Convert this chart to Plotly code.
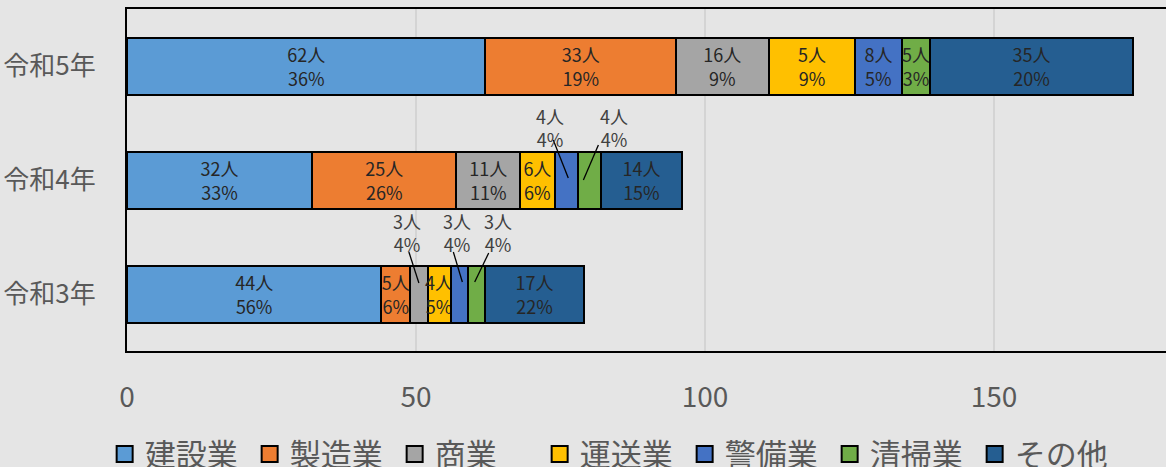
import plotly.graph_objects as go

# ---------------- data ----------------
years = ["令和3年", "令和4年", "令和5年"]
industries = ["建設業", "製造業", "商業", "運送業", "警備業", "清掃業", "その他"]

construction = [44, 32, 62]
manufacturing = [5, 25, 33]
commerce = [3, 11, 16]
transport = [4, 6, 15]
security = [3, 4, 8]
cleaning = [3, 4, 5]
other = [17, 14, 35]

construction_pct = [56, 33, 36]
manufacturing_pct = [6, 26, 19]
commerce_pct = [4, 11, 9]
transport_pct = [5, 6, 9]
security_pct = [4, 4, 5]
cleaning_pct = [4, 4, 3]
other_pct = [22, 15, 20]

# counts as printed in the data labels (the 令和5年 運送業 label reads "5人")
transport_label_counts = [4, 6, 5]

x_ticks = [0, 50, 100, 150]

# ---------------- style ----------------
colors = ["#5B9BD5", "#ED7D31", "#A5A5A5", "#FFC000", "#4472C4", "#70AD47", "#255E91"]
BG = "#e5e5e5"
FONT = "Noto Sans CJK JP"
GRAY = "#595959"

values = [construction, manufacturing, commerce, transport, security, cleaning, other]
pcts = [construction_pct, manufacturing_pct, commerce_pct, transport_pct,
        security_pct, cleaning_pct, other_pct]
label_counts = [construction, manufacturing, commerce, transport_label_counts,
                security, cleaning, other]

# labels placed outside with leader lines (pixel offsets from the segment centre):
# (industry index, year index) -> (text dx, text dy, line start dx, dy, line end dx, dy)
outside = {
    (4, 1): (-16, 53, -13, 40, 2, 2),
    (5, 1): (25, 53, 9, 35, -6, 0),
    (2, 0): (-12, 62, -10, 42, 0, 11),
    (4, 0): (-2, 62, -6, 42, 3, 12),
    (5, 0): (21, 62, 12, 41, -2, 12),
}

fig = go.Figure()
annotations = []
shapes = []
for i, name in enumerate(industries):
    texts = []
    for j in range(len(years)):
        lab = f"{label_counts[i][j]}人<br>{pcts[i][j]}%"
        if (i, j) in outside:
            texts.append("")
            start = sum(values[k][j] for k in range(i))
            cx = start + values[i][j] / 2
            tdx, tdy, sx, sy, ex, ey = outside[(i, j)]
            annotations.append(dict(
                x=cx, y=j, xref="x", yref="y", xshift=tdx, yshift=tdy,
                text=lab, showarrow=False,
                font=dict(family=FONT, size=18, color="#404040"),
            ))
            shapes.append(dict(
                type="line", xref="x", yref="y",
                xsizemode="pixel", ysizemode="pixel", xanchor=cx, yanchor=j,
                x0=sx, y0=sy, x1=ex, y1=ey,
                line=dict(color="#000000", width=1.3),
            ))
        else:
            texts.append(lab)
    fig.add_trace(go.Bar(
        y=years, x=values[i], name=name, orientation="h",
        marker=dict(color=colors[i], line=dict(color="#000000", width=2)),
        text=texts, textposition="inside", insidetextanchor="middle",
        textangle=0, textfont=dict(family=FONT, size=18, color="#262626"),
        cliponaxis=False, showlegend=False, legendgroup=name,
    ))

# legend entries (square swatches)
for i, name in enumerate(industries):
    fig.add_trace(go.Scatter(
        x=[None], y=[None], mode="markers", name=name, legendgroup=name,
        marker=dict(symbol="square", size=16, color=colors[i],
                    line=dict(color="#000000", width=2)),
        hoverinfo="skip",
    ))

fig.update_layout(
    barmode="stack",
    bargap=0.5,
    width=1166, height=467,
    margin=dict(l=127, r=0, t=9, b=116, autoexpand=False),
    paper_bgcolor=BG, plot_bgcolor=BG,
    font=dict(family=FONT, color=GRAY),
    uniformtext=dict(minsize=18, mode="show"),
    annotations=annotations,
    shapes=shapes,
    showlegend=True,
    legend=dict(
        orientation="h", xref="container", yref="container",
        x=0.525, y=0.027, xanchor="center", yanchor="middle",
        traceorder="normal", itemsizing="trace", entrywidth=100,
        font=dict(family=FONT, size=31, color=GRAY),
        bgcolor="rgba(0,0,0,0)", itemclick=False,
    ),
)
fig.update_xaxes(
    range=[0, 179.76], tickvals=x_ticks, showgrid=True, gridcolor="#d4d4d4",
    gridwidth=1.5, zeroline=False, showline=True, linecolor="#000000",
    linewidth=2, mirror=True, ticks="", ticklabelstandoff=20, automargin=False,
    tickfont=dict(family=FONT, size=28, color=GRAY),
)
fig.update_yaxes(
    categoryorder="array", categoryarray=years, range=[-0.5, 2.5],
    showline=True, linecolor="#000000", linewidth=2, mirror=False,
    showgrid=False, ticks="", ticklabelstandoff=24, automargin=False,
    tickfont=dict(family=FONT, size=26, color=GRAY),
)

fig.write_html(
    "out.html",
    config={"displayModeBar": False},
    post_script="document.body.style.margin='0';document.body.style.background='" + BG + "';",
)
